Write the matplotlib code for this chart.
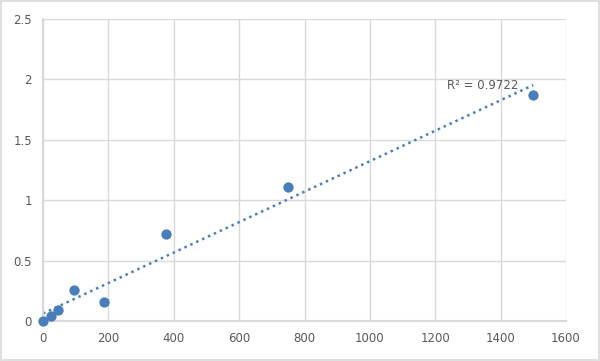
import matplotlib
matplotlib.use("Agg")
from matplotlib import pyplot as plt
from matplotlib.patches import Rectangle
import numpy as np

conc = [0, 23.4, 46.9, 93.75, 187.5, 375, 750, 1500]
od = [0.0, 0.04, 0.09, 0.26, 0.16, 0.72, 1.11, 1.87]
x_ticks = [0, 200, 400, 600, 800, 1000, 1200, 1400, 1600]
y_ticks = [0, 0.5, 1, 1.5, 2, 2.5]
r2_label = "R² = 0.9722"

blue = "#4a7ebb"
grid = "#d9d9d9"
text_col = "#595959"

fig = plt.figure(figsize=(6, 3.61), dpi=100)
fig.patches.append(Rectangle((0.002, 0.003), 0.996, 0.994, transform=fig.transFigure,
                             fill=False, edgecolor=grid, linewidth=1.2))
ax = fig.add_axes([43 / 600, 40 / 361, 523 / 600, 302 / 361])

slope, intercept = np.polyfit(conc, od, 1)
fx = np.array([0, max(conc)])
ax.plot(fx, slope * fx + intercept, linestyle=(0, (1, 1.6)), color=blue, linewidth=1.8, zorder=2)
ax.scatter(conc, od, s=55, color=blue, zorder=3, linewidths=0, clip_on=False)
ax.text(1455, 1.95, r2_label, ha="right", va="center", fontsize=8.5, color=text_col)

ax.set_xlim(0, 1600)
ax.set_ylim(0, 2.5)
ax.set_xticks(x_ticks)
ax.set_yticks(y_ticks)
ax.set_yticklabels(["0", "0.5", "1", "1.5", "2", "2.5"])
ax.grid(color=grid, linewidth=1)
ax.set_axisbelow(True)
for s in ["top", "right"]:
    ax.spines[s].set_visible(False)
ax.spines["left"].set_color(grid)
ax.spines["bottom"].set_color(grid)
ax.spines["left"].set_linewidth(1.5)
ax.spines["bottom"].set_linewidth(1.5)
ax.tick_params(length=0, labelsize=8.5, labelcolor=text_col, pad=8)

fig.savefig("out.png", dpi=100)
